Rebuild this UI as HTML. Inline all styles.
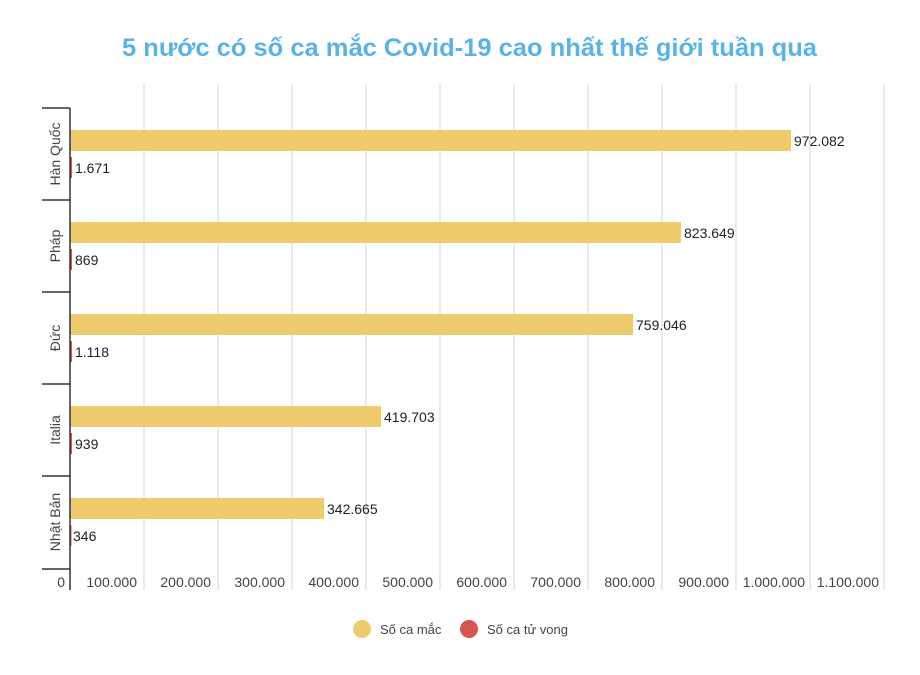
<!DOCTYPE html>
<html><head><meta charset="utf-8"><style>
html,body{margin:0;padding:0;background:#fff;}
svg{display:block;font-family:"Liberation Sans",sans-serif;}
</style></head><body>
<svg width="920" height="675" viewBox="0 0 920 675" xmlns="http://www.w3.org/2000/svg">
<rect width="920" height="675" fill="#fff"/>
<text x="122" y="56" font-size="25" font-weight="bold" fill="#5ab3e6" textLength="695" lengthAdjust="spacingAndGlyphs">5 nước có số ca mắc Covid-19 cao nhất thế giới tuần qua</text>
<g stroke="#dcdcdc" stroke-width="1.2">
<line x1="144" y1="84" x2="144" y2="590"/><line x1="218" y1="84" x2="218" y2="590"/>
<line x1="292" y1="84" x2="292" y2="590"/><line x1="366" y1="84" x2="366" y2="590"/>
<line x1="440" y1="84" x2="440" y2="590"/><line x1="514" y1="84" x2="514" y2="590"/>
<line x1="588" y1="84" x2="588" y2="590"/><line x1="662" y1="84" x2="662" y2="590"/>
<line x1="736" y1="84" x2="736" y2="590"/><line x1="810" y1="84" x2="810" y2="590"/>
<line x1="884" y1="84" x2="884" y2="590"/>
</g>
<g fill="#eecb6c">
<rect x="70" y="130" width="721" height="21"/>
<rect x="70" y="222" width="611" height="21"/>
<rect x="70" y="314" width="563" height="21"/>
<rect x="70" y="406" width="311" height="21"/>
<rect x="70" y="498" width="254" height="21"/>
</g>
<g fill="#d9534f">
<rect x="70" y="157" width="2" height="21"/>
<rect x="70" y="249" width="2" height="21"/>
<rect x="70" y="341" width="2" height="21"/>
<rect x="70" y="433" width="2" height="21"/>
<rect x="70" y="525" width="1.5" height="21"/>
</g>
<g stroke="#333" stroke-width="1.5">
<line x1="70" y1="108" x2="70" y2="590"/>
<line x1="42" y1="108" x2="70" y2="108"/><line x1="42" y1="200" x2="70" y2="200"/>
<line x1="42" y1="292" x2="70" y2="292"/><line x1="42" y1="384" x2="70" y2="384"/>
<line x1="42" y1="476" x2="70" y2="476"/><line x1="42" y1="569" x2="70" y2="569"/>
</g>
<g font-size="14" fill="#222">
<text x="794" y="146">972.082</text><text x="75" y="173">1.671</text>
<text x="684" y="238">823.649</text><text x="75" y="265">869</text>
<text x="636" y="330">759.046</text><text x="75" y="357">1.118</text>
<text x="384" y="422">419.703</text><text x="75" y="449">939</text>
<text x="327" y="514">342.665</text><text x="73" y="541">346</text>
</g>
<g font-size="14" fill="#444" text-anchor="middle">
<text transform="translate(60,154) rotate(-90)">Hàn Quốc</text>
<text transform="translate(60,246) rotate(-90)">Pháp</text>
<text transform="translate(60,338) rotate(-90)">Đức</text>
<text transform="translate(60,430) rotate(-90)">Italia</text>
<text transform="translate(60,522) rotate(-90)">Nhật Bản</text>
</g>
<g font-size="14" fill="#444" text-anchor="end">
<text x="65" y="587">0</text><text x="137" y="587">100.000</text>
<text x="211" y="587">200.000</text><text x="285" y="587">300.000</text>
<text x="359" y="587">400.000</text><text x="433" y="587">500.000</text>
<text x="507" y="587">600.000</text><text x="581" y="587">700.000</text>
<text x="655" y="587">800.000</text><text x="729" y="587">900.000</text>
<text x="805" y="587">1.000.000</text><text x="879" y="587">1.100.000</text>
</g>
<circle cx="362" cy="629" r="9" fill="#eecb6c"/>
<text x="380" y="634" font-size="13" fill="#444">Số ca mắc</text>
<circle cx="469" cy="629" r="9" fill="#d9534f"/>
<text x="487" y="634" font-size="13" fill="#444">Số ca tử vong</text>
</svg>
</body></html>
